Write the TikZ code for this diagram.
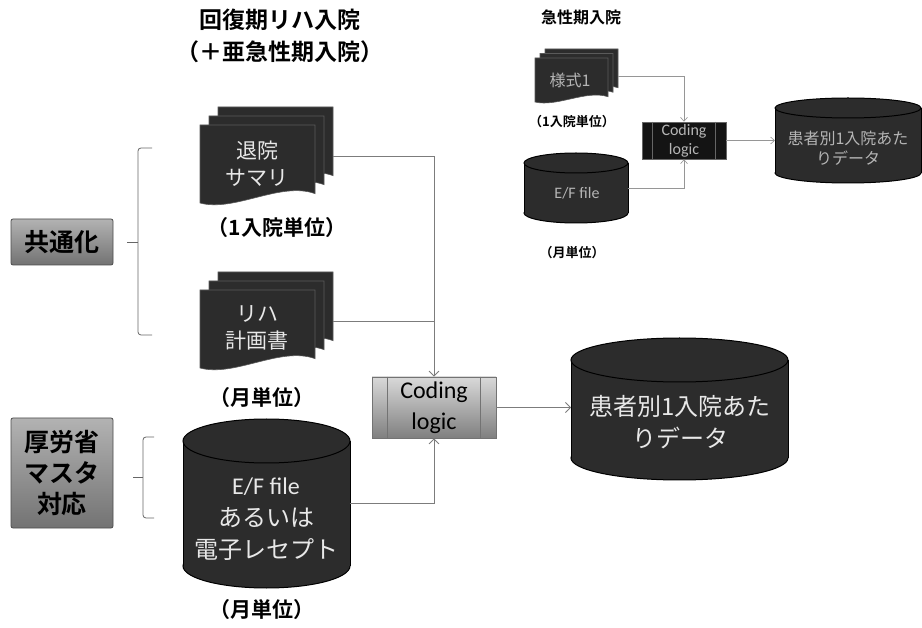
\documentclass[tikz,border=0pt]{standalone}
\usepackage{fontspec}
\setmainfont{Noto Sans CJK JP}[BoldFont={Noto Sans CJK JP Bold}]
\newfontfamily\latfont{Carlito}
\usetikzlibrary{arrows.meta}
\definecolor{docfill}{HTML}{2C2C2C}
\definecolor{docedge}{HTML}{5A5A5A}
\definecolor{conngray}{HTML}{7C7C7C}
\definecolor{lighttxt}{HTML}{E8E8E8}
\definecolor{dimtxt}{HTML}{B5B5B5}
\tikzset{
  pagestyle/.style={fill=docfill, draw=docedge, line width=0.6pt},
  cylfill/.style={fill=docfill, draw=black, line width=1pt},
  cyledge/.style={draw=black, line width=1pt},
  conn/.style={draw=conngray, line width=0.8pt, -{Straight Barb[length=5pt,width=10pt]}},
  conns/.style={draw=conngray!80, line width=0.6pt, -{Straight Barb[length=4pt,width=7pt]}},
  plainline/.style={draw=conngray, line width=0.8pt},
  brk/.style={draw=black!60, line width=0.8pt},
  anchorbox/.style={inner sep=0pt, outer sep=0pt, draw=none},
  titlefont/.style={inner sep=0pt, align=center, font=\bfseries\fontsize{23}{32}\selectfont},
  lbl/.style={inner sep=0pt, font=\bfseries\fontsize{21}{26}\selectfont},
  slbl/.style={inner sep=0pt, font=\bfseries\fontsize{13}{16}\selectfont},
  doctext/.style={inner sep=0pt, align=center, text=lighttxt, font=\fontsize{21}{27}\selectfont},
  cyltext/.style={inner sep=0pt, align=center, text=lighttxt, font=\fontsize{24}{32}\selectfont},
  sdimtext/.style={inner sep=0pt, align=center, text=dimtxt, font=\fontsize{16}{20}\selectfont},
  graybox/.style={draw=black!70, line width=0.8pt, rounded corners=2pt, top color=black!30, bottom color=black!55, inner sep=0pt, align=center, font=\bfseries\fontsize{25}{31}\selectfont},
  codebox/.style={draw=black!55, line width=0.8pt, top color=black!15, bottom color=black!50, inner sep=0pt, align=center, font=\latfont\fontsize{24}{31}\selectfont},
  scodebox/.style={draw=black!60, line width=0.6pt, fill=black!92, inner sep=0pt, align=center, text=dimtxt, font=\latfont\fontsize{16}{19}\selectfont},
}
\newcommand{\docpage}[4]{%
  \filldraw[pagestyle] ({#1},{#2}) -- ({#1+#3},{#2}) -- ({#1+#3},{#2+0.88*#4})
    .. controls ({#1+0.7*#3},{#2+0.72*#4}) and ({#1+0.3*#3},{#2+1.12*#4}) .. ({#1},{#2+#4}) -- cycle;}
\newcommand{\multidoc}[6]{%
  \docpage{#1+2*#5}{#2-2*#6}{#3}{#4}%
  \docpage{#1+#5}{#2-#6}{#3}{#4}%
  \docpage{#1}{#2}{#3}{#4}}
\newcommand{\cyl}[5]{%
  \filldraw[cylfill] ({(#1+#3)/2},{#4-#5}) ellipse [x radius={(#3-#1)/2}, y radius={#5}];
  \fill[docfill] ({#1},{#2+#5}) rectangle ({#3},{#4-#5});
  \draw[cyledge] ({#1},{#2+#5}) -- ({#1},{#4-#5}) ({#3},{#2+#5}) -- ({#3},{#4-#5});
  \filldraw[cylfill] ({(#1+#3)/2},{#2+#5}) ellipse [x radius={(#3-#1)/2}, y radius={#5}];}
\begin{document}
\begin{tikzpicture}[x=1pt,y=-1pt]
\useasboundingbox[fill=white] (0,0) rectangle (922,628);

% ---------- left main diagram ----------
\node[titlefont] (title) at (280,36) {回復期リハ入院\\（＋亜急性期入院）};

\multidoc{200}{125}{115}{78}{9}{9}
\node[anchorbox, minimum width=115, minimum height=78] (sumdoc) at (275.5,146) {};
\node[doctext] (sumtxt) at (257,164) {退院\\サマリ};
\node[lbl] (sumlbl) at (277,228) {（1入院単位）};

\multidoc{200}{290}{115}{78}{9}{9}
\node[anchorbox, minimum width=115, minimum height=78] (rehadoc) at (275.5,311) {};
\node[doctext] (rehatxt) at (257,328) {リハ\\計画書};
\node[lbl] (rehalbl) at (262,398) {（月単位）};

\cyl{183}{419}{350}{588}{22}
\node[anchorbox, minimum width=167, minimum height=169] (efcyl) at (266.5,503.5) {};
\node[cyltext] (eftxt) at (266,519) {{\latfont E/F file}\\あるいは\\電子レセプト};
\node[lbl] (eflbl) at (262,610) {（月単位）};

\node[graybox, minimum width=102, minimum height=46] (kyotsu) at (62,242) {共通化};
\node[graybox, minimum width=102, minimum height=110] (mhlw) at (62,473) {厚労省\\マスタ\\対応};

\draw[brk, rounded corners=3pt] (152,148) -- (138,148) -- (138,335) -- (152,335);
\draw[brk] (127,242) -- (138,242);
\draw[brk, rounded corners=3pt] (154,437) -- (143,437) -- (143,518) -- (154,518);
\draw[brk] (133,477) -- (143,477);

\node[codebox, minimum width=124, minimum height=61] (code) at (434,407.5) {Coding\\logic};
\draw[draw=black!55, line width=0.8pt] ([xshift=16pt]code.north west) -- ([xshift=16pt]code.south west)
  ([xshift=-16pt]code.north east) -- ([xshift=-16pt]code.south east);

\cyl{571}{338}{788}{480}{22}
\node[anchorbox, minimum width=217, minimum height=142] (patcyl) at (679.5,409) {};
\node[cyltext] (pattxt) at (680,422) {患者別1入院あた\\りデータ};

\draw[conn] ([yshift=-10pt]sumdoc.east) -| (code.north);
\draw[plainline] ([yshift=-10pt]rehadoc.east) -- ([yshift=-10pt]rehadoc.east -| code.north);
\draw[conn] (efcyl.east) -| (code.south);
\draw[conn] (code.east) -- (code.east -| patcyl.west);

% ---------- small top-right diagram ----------
\node[inner sep=0pt, font=\bfseries\fontsize{16}{20}\selectfont] (title2) at (581,17) {急性期入院};

\multidoc{535}{58}{73}{44}{5}{4.5}
\node[anchorbox, minimum width=73, minimum height=44] (ysdoc) at (581.5,71) {};
\node[sdimtext] (ystxt) at (570,80) {様式1};
\node[slbl] (yslbl) at (572,122) {（1入院単位）};

\cyl{524}{153}{628}{223}{10}
\node[anchorbox, minimum width=104, minimum height=70] (efs) at (576,188) {};
\node[sdimtext, font=\latfont\fontsize{16}{20}\selectfont] (efstxt) at (577,193) {E/F file};
\node[slbl] (efslbl) at (572,253) {（月単位）};

\node[scodebox, minimum width=84, minimum height=37] (codes) at (684,140.5) {Coding\\logic};
\draw[draw=black!60, line width=0.6pt] ([xshift=11pt]codes.north west) -- ([xshift=11pt]codes.south west)
  ([xshift=-11pt]codes.north east) -- ([xshift=-11pt]codes.south east);

\cyl{775}{98}{921}{183}{10}
\node[anchorbox, minimum width=146, minimum height=85] (pats) at (848,140.5) {};
\node[sdimtext] (patstxt) at (848,148) {患者別1入院あた\\りデータ};

\draw[conns] ([yshift=-5pt]ysdoc.east) -| (codes.north);
\draw[conns] (efs.east) -| (codes.south);
\draw[conns] (codes.east) -- (codes.east -| pats.west);
\end{tikzpicture}
\end{document}
